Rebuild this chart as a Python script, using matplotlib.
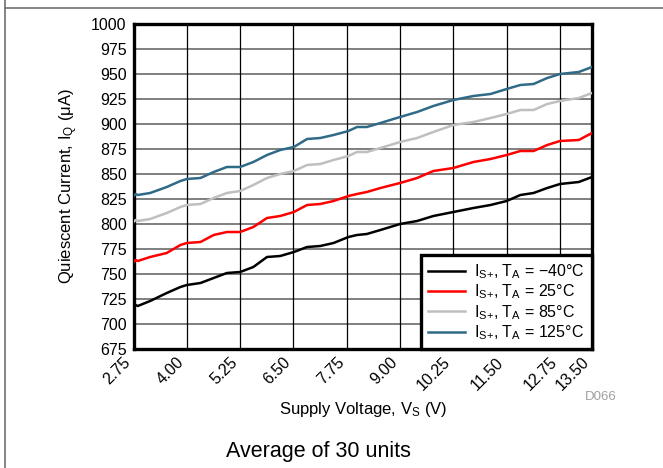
import matplotlib
matplotlib.use("Agg")
import matplotlib.pyplot as plt
from matplotlib.lines import Line2D

plt.rcParams['font.family'] = ['Liberation Sans', 'DejaVu Sans']
plt.rcParams['mathtext.fontset'] = 'custom'
plt.rcParams['mathtext.rm'] = 'Liberation Sans'
plt.rcParams['mathtext.it'] = 'Liberation Sans'

# Supply voltage (V)
vs = [2.75, 2.80, 2.85, 3.14, 3.53, 3.85, 4.0, 4.32, 4.63, 4.94, 5.25, 5.56, 5.88,
      6.19, 6.51, 6.82, 7.13, 7.44, 7.79, 7.99, 8.22, 8.54, 9.0, 9.40, 9.78,
      10.25, 10.72, 11.12, 11.5, 11.82, 12.13, 12.45, 12.75, 13.19, 13.5]

iq_m40 = [717.5, 719, 718, 723, 731, 737, 739, 741, 746, 751, 752, 757, 767,
          768, 772, 777, 778, 781, 787, 789, 790, 794, 800, 803, 808,
          812, 816, 819, 823, 829, 831, 836, 840, 842, 847]
iq_25 = [762, 764, 763, 767, 771, 779, 781, 782, 789, 792, 792, 797, 806,
         808, 812, 819, 820, 823, 828, 830, 832, 836, 841, 846, 853,
         856, 862, 865, 869, 873, 873, 879, 883, 884, 891]
iq_85 = [802, 804, 803, 805, 811, 817, 819, 820, 826, 831, 833, 839, 846,
         850, 853, 859, 860, 864, 868, 872, 872, 876, 882, 886, 892,
         899, 902, 906, 910, 914, 914, 920, 923, 926, 931]
iq_125 = [828, 830, 829, 831, 837, 843, 845, 846, 852, 857, 857, 862, 869,
          874, 877, 885, 886, 889, 893, 897, 897, 901, 907, 912, 918,
          924, 928, 930, 935, 939, 940, 946, 950, 952, 957]

series = [
    (iq_m40, 'black', 'I$_{\\mathregular{S{+}}}$, T$_{\\mathregular{A}}$ = \u221240\u00b0C'),
    (iq_25, '#ff0000', 'I$_{\\mathregular{S{+}}}$, T$_{\\mathregular{A}}$ = 25\u00b0C'),
    (iq_85, '#bfbfbf', 'I$_{\\mathregular{S{+}}}$, T$_{\\mathregular{A}}$ = 85\u00b0C'),
    (iq_125, '#2f6a87', 'I$_{\\mathregular{S{+}}}$, T$_{\\mathregular{A}}$ = 125\u00b0C'),
]

xticks = [2.75, 4.00, 5.25, 6.50, 7.75, 9.00, 10.25, 11.50, 12.75, 13.50]
xtick_labels = ['2.75', '4.00', '5.25', '6.50', '7.75', '9.00', '10.25', '11.50', '12.75', '13.50']
yticks = list(range(675, 1001, 25))

fig = plt.figure(figsize=(6.63, 4.68), dpi=100)
ax = fig.add_axes([133.5 / 663, 1 - 349 / 468, (592 - 133.5) / 663, (349 - 24) / 468])

for vals, col, lab in series:
    ax.plot(vs, vals, color=col, lw=1.8, label=lab, zorder=3)

ax.set_xlim(2.75, 13.5)
ax.set_ylim(675, 1000)
ax.set_xticks(xticks)
ax.set_xticklabels(xtick_labels, rotation=45, ha='right', va='top', fontsize=11.5)
ax.set_yticks(yticks)
ax.set_yticklabels([str(t) for t in yticks], fontsize=11.5)
ax.tick_params(length=0, pad=5)
ax.tick_params(axis='x', pad=4)

for t in yticks[1:-1]:
    ax.axhline(t, color='#7f7f7f', lw=1.4, zorder=1)
for t in xticks[1:-1]:
    ax.axvline(t, color='black', lw=0.9, zorder=1)

for s in ax.spines.values():
    s.set_linewidth(2.4)
    s.set_color('black')

ax.set_xlabel('Supply Voltage, V$_{\\mathregular{S}}$ (V)', fontsize=12, labelpad=5)
ax.set_ylabel('Quiescent Current, I$_{\\mathregular{Q}}$ ($\\mathregular{\\mu}$A)', fontsize=12, labelpad=8)

leg = ax.legend(loc='lower right', fontsize=11.5, frameon=True, fancybox=False,
                borderaxespad=0, handlelength=2.3, handletextpad=0.6,
                labelspacing=0.1, borderpad=0.45)
leg.get_frame().set_edgecolor('black')
leg.get_frame().set_linewidth(2.4)
leg.get_frame().set_alpha(1)
leg.set_zorder(5)

fig.text(617 / 663, 1 - 397 / 468, 'D066', color='#a0a0a0', fontsize=9.5, ha='right', va='center')
fig.text(318 / 663, 1 - 452 / 468, 'Average of 30 units', fontsize=15.5, ha='center', va='center')

fig.add_artist(Line2D([4.7 / 663, 4.7 / 663], [0, 1], transform=fig.transFigure, color='#707070', lw=1.2))
fig.add_artist(Line2D([4.7 / 663, 1], [1 - 7.5 / 468, 1 - 7.5 / 468], transform=fig.transFigure, color='#707070', lw=1.2))

fig.savefig('out.png', dpi=100)
